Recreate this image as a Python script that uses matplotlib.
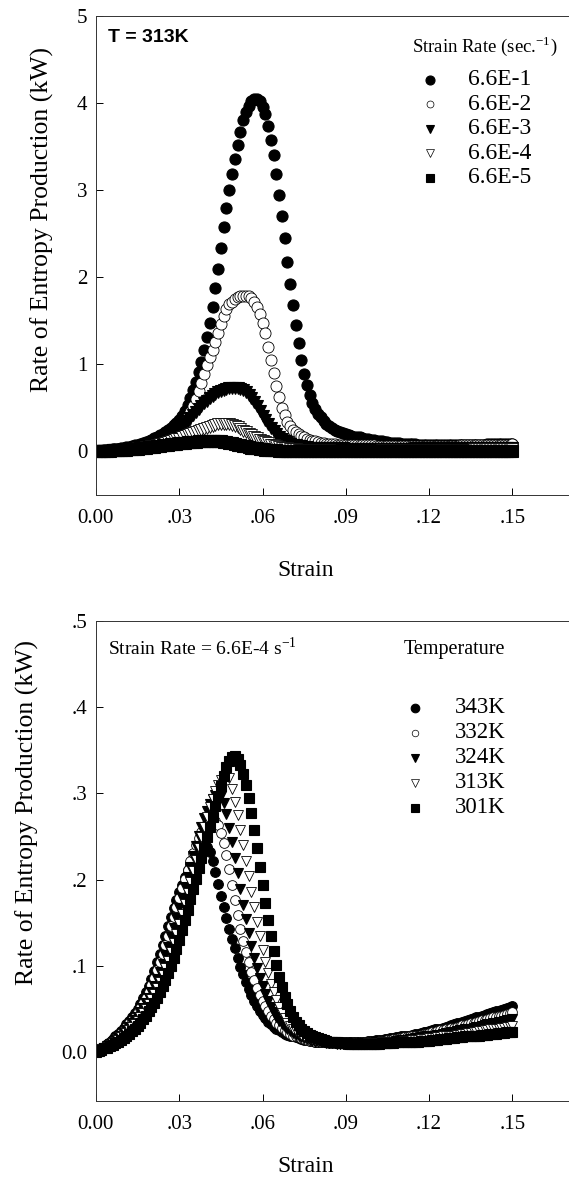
import numpy as np
import matplotlib
matplotlib.use("Agg")
import matplotlib.pyplot as plt

plt.rcParams['font.family'] = ['Liberation Serif', 'DejaVu Serif']
plt.rcParams['mathtext.fontset'] = 'custom'
plt.rcParams['mathtext.rm'] = 'Liberation Serif'

STEP = 0.001  # strain step between data points

# ---- top panel, T = 313K, rate of entropy production (kW) ----
rate_labels = ["6.6E-1", "6.6E-2", "6.6E-3", "6.6E-4", "6.6E-5"]

r_66e1 = [
    0.000, 0.005, 0.010, 0.013, 0.017, 0.020, 0.024, 0.027, 0.031, 0.035,
    0.040, 0.047, 0.054, 0.061, 0.069, 0.078, 0.088, 0.098, 0.110, 0.122,
    0.135, 0.150, 0.166, 0.183, 0.200, 0.220, 0.245, 0.270, 0.300, 0.330,
    0.365, 0.405, 0.460, 0.530, 0.610, 0.700, 0.800, 0.910, 1.030, 1.160,
    1.310, 1.480, 1.660, 1.880, 2.100, 2.340, 2.580, 2.800, 3.000, 3.190,
    3.360, 3.520, 3.670, 3.800, 3.900, 3.970, 4.020, 4.050, 4.050, 4.020,
    3.960, 3.870, 3.740, 3.580, 3.400, 3.180, 2.940, 2.700, 2.450, 2.180,
    1.920, 1.680, 1.450, 1.240, 1.050, 0.890, 0.760, 0.650, 0.560, 0.490,
    0.430, 0.390, 0.350, 0.320, 0.290, 0.270, 0.250, 0.240, 0.220, 0.210,
    0.200, 0.190, 0.180, 0.170, 0.165, 0.160, 0.150, 0.145, 0.140, 0.135,
    0.130, 0.125, 0.120, 0.115, 0.110, 0.105, 0.100, 0.097, 0.094, 0.091,
    0.088, 0.086, 0.084, 0.082, 0.081, 0.080, 0.079, 0.078, 0.078, 0.077,
    0.077, 0.076, 0.076, 0.076, 0.075, 0.075, 0.075, 0.075, 0.075, 0.075,
    0.075, 0.075, 0.075, 0.076, 0.076, 0.076, 0.077, 0.077, 0.078, 0.078,
    0.079, 0.080, 0.080, 0.081, 0.082, 0.083, 0.084, 0.085, 0.087, 0.088, 0.090]

r_66e2 = [
    0.000, 0.003, 0.006, 0.009, 0.012, 0.015, 0.018, 0.021, 0.024, 0.027,
    0.030, 0.034, 0.038, 0.042, 0.047, 0.052, 0.058, 0.064, 0.070, 0.077,
    0.085, 0.095, 0.105, 0.118, 0.132, 0.145, 0.160, 0.175, 0.190, 0.215,
    0.245, 0.280, 0.330, 0.390, 0.450, 0.520, 0.600, 0.690, 0.790, 0.890,
    0.990, 1.080, 1.170, 1.260, 1.360, 1.460, 1.550, 1.630, 1.690, 1.720,
    1.750, 1.770, 1.780, 1.785, 1.785, 1.780, 1.760, 1.720, 1.660, 1.580,
    1.480, 1.360, 1.200, 1.050, 0.900, 0.750, 0.620, 0.500, 0.420, 0.340,
    0.290, 0.250, 0.220, 0.195, 0.175, 0.160, 0.145, 0.133, 0.123, 0.115,
    0.108, 0.100, 0.094, 0.089, 0.085, 0.082, 0.080, 0.078, 0.076, 0.075,
    0.074, 0.073, 0.072, 0.071, 0.070, 0.070, 0.069, 0.069, 0.068, 0.068,
    0.068, 0.067, 0.067, 0.067, 0.066, 0.066, 0.066, 0.066, 0.066, 0.066,
    0.066, 0.066, 0.066, 0.066, 0.066, 0.066, 0.066, 0.066, 0.066, 0.066,
    0.066, 0.066, 0.066, 0.066, 0.066, 0.066, 0.067, 0.067, 0.067, 0.067,
    0.067, 0.068, 0.068, 0.068, 0.069, 0.069, 0.070, 0.070, 0.071, 0.071,
    0.072, 0.072, 0.073, 0.074, 0.074, 0.075, 0.076, 0.077, 0.078, 0.079, 0.080]

r_66e3 = [
    0.000, 0.002, 0.004, 0.006, 0.008, 0.010, 0.012, 0.014, 0.016, 0.018,
    0.021, 0.024, 0.028, 0.032, 0.037, 0.042, 0.048, 0.055, 0.063, 0.072,
    0.082, 0.093, 0.105, 0.118, 0.133, 0.150, 0.168, 0.188, 0.210, 0.234,
    0.260, 0.288, 0.318, 0.350, 0.384, 0.418, 0.452, 0.486, 0.520, 0.552,
    0.582, 0.610, 0.636, 0.660, 0.680, 0.697, 0.711, 0.722, 0.729, 0.733,
    0.732, 0.726, 0.715, 0.700, 0.680, 0.650, 0.615, 0.570, 0.520, 0.465,
    0.410, 0.360, 0.315, 0.272, 0.233, 0.198, 0.168, 0.142, 0.121, 0.104,
    0.090, 0.079, 0.070, 0.063, 0.057, 0.052, 0.048, 0.045, 0.043, 0.041,
    0.039, 0.038, 0.037, 0.036, 0.036, 0.035, 0.035, 0.034, 0.034, 0.034,
    0.033, 0.033, 0.033, 0.033, 0.033, 0.033, 0.033, 0.033, 0.033, 0.033,
    0.033, 0.033, 0.033, 0.033, 0.033, 0.033, 0.033, 0.033, 0.033, 0.033,
    0.033, 0.033, 0.033, 0.033, 0.033, 0.034, 0.034, 0.034, 0.034, 0.034,
    0.034, 0.034, 0.035, 0.035, 0.035, 0.035, 0.035, 0.036, 0.036, 0.036,
    0.036, 0.037, 0.037, 0.037, 0.037, 0.038, 0.038, 0.038, 0.039, 0.039,
    0.039, 0.040, 0.040, 0.041, 0.041, 0.042, 0.042, 0.043, 0.043, 0.044, 0.045]

r_66e5 = [
    0.000, 0.002, 0.004, 0.006, 0.008, 0.010, 0.012, 0.014, 0.016, 0.018,
    0.020, 0.022, 0.024, 0.027, 0.030, 0.033, 0.036, 0.040, 0.044, 0.048,
    0.052, 0.056, 0.060, 0.064, 0.068, 0.072, 0.076, 0.080, 0.084, 0.088,
    0.092, 0.096, 0.100, 0.104, 0.107, 0.110, 0.113, 0.115, 0.117, 0.119,
    0.120, 0.120, 0.120, 0.119, 0.117, 0.114, 0.110, 0.105, 0.099, 0.093,
    0.086, 0.079, 0.072, 0.065, 0.058, 0.051, 0.045, 0.039, 0.034, 0.029,
    0.025, 0.021, 0.018, 0.015, 0.013, 0.011, 0.009, 0.008, 0.007, 0.006,
    0.005, 0.005, 0.004, 0.004, 0.004, 0.004, 0.004, 0.003, 0.003, 0.003,
    0.003, 0.003, 0.003, 0.003, 0.003, 0.003, 0.003, 0.003, 0.003, 0.003,
    0.003, 0.003, 0.003, 0.003, 0.003, 0.003, 0.003, 0.003, 0.003, 0.003,
    0.003, 0.003, 0.003, 0.003, 0.003, 0.003, 0.003, 0.003, 0.003, 0.003,
    0.003, 0.003, 0.003, 0.003, 0.003, 0.004, 0.004, 0.004, 0.004, 0.004,
    0.004, 0.004, 0.004, 0.004, 0.004, 0.005, 0.005, 0.005, 0.005, 0.005,
    0.005, 0.005, 0.005, 0.005, 0.006, 0.006, 0.006, 0.006, 0.006, 0.006,
    0.007, 0.007, 0.007, 0.007, 0.007, 0.007, 0.008, 0.008, 0.008, 0.008, 0.008]

# ---- bottom panel, strain rate 6.6E-4 1/s ----
temp_labels = ["343K", "332K", "324K", "313K", "301K"]

t_343 = [
    0.000, 0.002, 0.004, 0.006, 0.009, 0.012, 0.015, 0.018, 0.021, 0.024,
    0.028, 0.032, 0.036, 0.040, 0.045, 0.050, 0.056, 0.062, 0.069, 0.077,
    0.085, 0.094, 0.104, 0.114, 0.124, 0.135, 0.146, 0.157, 0.167, 0.176,
    0.185, 0.194, 0.203, 0.211, 0.218, 0.225, 0.231, 0.236, 0.239, 0.240,
    0.238, 0.232, 0.222, 0.209, 0.195, 0.181, 0.168, 0.155, 0.143, 0.131,
    0.120, 0.109, 0.099, 0.090, 0.081, 0.073, 0.066, 0.059, 0.053, 0.048,
    0.043, 0.039, 0.035, 0.032, 0.029, 0.027, 0.025, 0.023, 0.021, 0.020,
    0.019, 0.018, 0.017, 0.016, 0.015, 0.014, 0.014, 0.013, 0.013, 0.012,
    0.012, 0.012, 0.011, 0.011, 0.011, 0.011, 0.011, 0.011, 0.011, 0.011,
    0.011, 0.011, 0.011, 0.011, 0.012, 0.012, 0.012, 0.012, 0.013, 0.013,
    0.013, 0.014, 0.014, 0.014, 0.015, 0.015, 0.016, 0.016, 0.017, 0.017,
    0.018, 0.018, 0.019, 0.019, 0.020, 0.021, 0.021, 0.022, 0.023, 0.023,
    0.024, 0.025, 0.026, 0.026, 0.027, 0.028, 0.029, 0.030, 0.031, 0.032,
    0.033, 0.034, 0.035, 0.036, 0.037, 0.038, 0.039, 0.040, 0.041, 0.042,
    0.043, 0.044, 0.045, 0.046, 0.047, 0.048, 0.049, 0.050, 0.051, 0.052, 0.053]

t_332 = [
    0.000, 0.002, 0.004, 0.006, 0.008, 0.011, 0.013, 0.016, 0.019, 0.022,
    0.025, 0.029, 0.033, 0.037, 0.041, 0.046, 0.051, 0.057, 0.063, 0.070,
    0.078, 0.086, 0.095, 0.104, 0.114, 0.124, 0.135, 0.146, 0.157, 0.168,
    0.179, 0.190, 0.201, 0.211, 0.221, 0.231, 0.240, 0.248, 0.255, 0.261,
    0.266, 0.269, 0.270, 0.268, 0.263, 0.254, 0.242, 0.228, 0.212, 0.194,
    0.176, 0.159, 0.143, 0.129, 0.116, 0.104, 0.093, 0.083, 0.074, 0.066,
    0.059, 0.053, 0.047, 0.042, 0.038, 0.034, 0.031, 0.028, 0.025, 0.023,
    0.021, 0.019, 0.018, 0.017, 0.016, 0.015, 0.014, 0.013, 0.013, 0.012,
    0.012, 0.011, 0.011, 0.011, 0.010, 0.010, 0.010, 0.010, 0.010, 0.010,
    0.010, 0.010, 0.010, 0.010, 0.010, 0.011, 0.011, 0.011, 0.011, 0.012,
    0.012, 0.012, 0.013, 0.013, 0.013, 0.014, 0.014, 0.015, 0.015, 0.016,
    0.016, 0.017, 0.017, 0.018, 0.018, 0.019, 0.019, 0.020, 0.021, 0.021,
    0.022, 0.023, 0.023, 0.024, 0.025, 0.025, 0.026, 0.027, 0.028, 0.028,
    0.029, 0.030, 0.031, 0.031, 0.032, 0.033, 0.034, 0.035, 0.036, 0.037,
    0.037, 0.038, 0.039, 0.040, 0.041, 0.042, 0.042, 0.043, 0.044, 0.045, 0.046]

t_324 = [
    0.000, 0.002, 0.003, 0.005, 0.007, 0.009, 0.011, 0.014, 0.016, 0.019,
    0.022, 0.025, 0.029, 0.033, 0.037, 0.041, 0.046, 0.051, 0.057, 0.063,
    0.070, 0.077, 0.085, 0.093, 0.102, 0.112, 0.122, 0.133, 0.144, 0.155,
    0.167, 0.179, 0.191, 0.203, 0.215, 0.227, 0.239, 0.250, 0.261, 0.271,
    0.280, 0.288, 0.294, 0.298, 0.300, 0.297, 0.289, 0.276, 0.260, 0.243,
    0.225, 0.207, 0.189, 0.171, 0.154, 0.138, 0.123, 0.109, 0.097, 0.086,
    0.076, 0.067, 0.059, 0.052, 0.046, 0.041, 0.036, 0.032, 0.029, 0.026,
    0.024, 0.022, 0.020, 0.018, 0.017, 0.016, 0.015, 0.014, 0.013, 0.012,
    0.012, 0.011, 0.011, 0.010, 0.010, 0.010, 0.010, 0.009, 0.009, 0.009,
    0.009, 0.009, 0.009, 0.009, 0.009, 0.009, 0.010, 0.010, 0.010, 0.010,
    0.010, 0.011, 0.011, 0.011, 0.011, 0.012, 0.012, 0.012, 0.013, 0.013,
    0.014, 0.014, 0.014, 0.015, 0.015, 0.016, 0.016, 0.017, 0.017, 0.018,
    0.018, 0.019, 0.019, 0.020, 0.020, 0.021, 0.022, 0.022, 0.023, 0.023,
    0.024, 0.025, 0.025, 0.026, 0.027, 0.027, 0.028, 0.029, 0.029, 0.030,
    0.031, 0.032, 0.032, 0.033, 0.034, 0.035, 0.035, 0.036, 0.037, 0.037, 0.038]

# 313K at 6.6E-4 is the same run in both panels
t_313 = [
    0.000, 0.001, 0.003, 0.004, 0.006, 0.008, 0.010, 0.012, 0.014, 0.017,
    0.019, 0.022, 0.025, 0.029, 0.032, 0.036, 0.040, 0.045, 0.050, 0.055,
    0.061, 0.067, 0.074, 0.081, 0.089, 0.097, 0.106, 0.116, 0.126, 0.137,
    0.148, 0.160, 0.172, 0.184, 0.197, 0.210, 0.223, 0.236, 0.249, 0.261,
    0.273, 0.284, 0.294, 0.303, 0.310, 0.315, 0.319, 0.320, 0.318, 0.305,
    0.290, 0.275, 0.258, 0.240, 0.222, 0.204, 0.186, 0.168, 0.151, 0.134,
    0.118, 0.104, 0.091, 0.079, 0.069, 0.060, 0.052, 0.045, 0.039, 0.034,
    0.030, 0.027, 0.024, 0.022, 0.020, 0.018, 0.017, 0.016, 0.015, 0.014,
    0.013, 0.012, 0.012, 0.011, 0.011, 0.010, 0.010, 0.010, 0.009, 0.009,
    0.009, 0.009, 0.009, 0.009, 0.009, 0.009, 0.009, 0.009, 0.010, 0.010,
    0.010, 0.010, 0.010, 0.011, 0.011, 0.011, 0.011, 0.012, 0.012, 0.012,
    0.012, 0.013, 0.013, 0.013, 0.014, 0.014, 0.014, 0.015, 0.015, 0.015,
    0.016, 0.016, 0.016, 0.017, 0.017, 0.018, 0.018, 0.018, 0.019, 0.019,
    0.020, 0.020, 0.021, 0.021, 0.022, 0.022, 0.023, 0.023, 0.024, 0.024,
    0.025, 0.025, 0.026, 0.026, 0.027, 0.027, 0.028, 0.028, 0.029, 0.029, 0.030]

t_301 = [
    0.000, 0.001, 0.002, 0.004, 0.005, 0.007, 0.008, 0.010, 0.012, 0.014,
    0.016, 0.019, 0.021, 0.024, 0.027, 0.030, 0.034, 0.038, 0.042, 0.047,
    0.052, 0.057, 0.063, 0.069, 0.076, 0.083, 0.091, 0.100, 0.109, 0.119,
    0.130, 0.141, 0.153, 0.165, 0.177, 0.189, 0.201, 0.213, 0.225, 0.237,
    0.249, 0.261, 0.273, 0.285, 0.297, 0.309, 0.320, 0.330, 0.337, 0.342,
    0.343, 0.340, 0.333, 0.322, 0.310, 0.295, 0.277, 0.257, 0.236, 0.215,
    0.194, 0.173, 0.153, 0.134, 0.117, 0.101, 0.087, 0.075, 0.064, 0.055,
    0.047, 0.041, 0.035, 0.031, 0.027, 0.024, 0.022, 0.020, 0.018, 0.017,
    0.016, 0.015, 0.014, 0.013, 0.012, 0.012, 0.011, 0.011, 0.010, 0.010,
    0.010, 0.009, 0.009, 0.009, 0.009, 0.009, 0.009, 0.009, 0.009, 0.009,
    0.009, 0.009, 0.009, 0.010, 0.010, 0.010, 0.010, 0.010, 0.011, 0.011,
    0.011, 0.011, 0.011, 0.012, 0.012, 0.012, 0.012, 0.013, 0.013, 0.013,
    0.013, 0.014, 0.014, 0.014, 0.015, 0.015, 0.015, 0.016, 0.016, 0.016,
    0.017, 0.017, 0.017, 0.018, 0.018, 0.018, 0.019, 0.019, 0.019, 0.020,
    0.020, 0.020, 0.021, 0.021, 0.021, 0.022, 0.022, 0.022, 0.023, 0.023, 0.023]

x_ticks = [0.0, 0.03, 0.06, 0.09, 0.12, 0.15]
x_tick_labels = ["0.00", ".03", ".06", ".09", ".12", ".15"]
top_y_ticks = [0, 1, 2, 3, 4, 5]
top_y_labels = ["0", "1", "2", "3", "4", "5"]
bot_y_ticks = [0.0, 0.1, 0.2, 0.3, 0.4, 0.5]
bot_y_labels = ["0.0", ".1", ".2", ".3", ".4", ".5"]

# marker styles in legend order: filled circle, open circle, filled tri, open tri, filled square
styles = [
    dict(marker='o', mfc='black', mec='black'),
    dict(marker='o', mfc='white', mec='black'),
    dict(marker='v', mfc='black', mec='black'),
    dict(marker='v', mfc='white', mec='black'),
    dict(marker='s', mfc='black', mec='black'),
]
# legend key sizes (the reference draws the open keys smaller)
key_sizes = [6.5, 5.0, 6.2, 5.6, 5.4]


def strain_of(vals):
    return np.arange(len(vals)) * STEP


def style_axes(ax, yticks, ylabels, ylim):
    ax.set_xlim(0, 0.17)
    ax.set_ylim(*ylim)
    ax.set_xticks(x_ticks, x_tick_labels)
    ax.set_yticks(yticks, ylabels)
    ax.tick_params(direction='in', length=5, width=0.7, labelsize=15)
    ax.tick_params(axis='x', pad=10)
    ax.tick_params(axis='y', pad=6)
    ax.spines['right'].set_visible(False)
    for s in ['left', 'top', 'bottom']:
        ax.spines[s].set_linewidth(0.7)
        ax.spines[s].set_color('#333333')
    ax.set_xlabel("Strain", fontsize=17)
    ax.set_ylabel("Rate of Entropy Production (kW)", fontsize=18.5)


def key_legend(ax, labels, x_mark, x_text, y0, dy, fs, scale):
    # hand-placed legend rows: marker key then label
    for i, (st, lab) in enumerate(zip(styles, labels)):
        y = y0 - i * dy
        mew = 0.5 if st['mfc'] == 'white' else 0.8
        ax.plot([x_mark], [y], transform=ax.transAxes, linestyle='none',
                ms=key_sizes[i] * scale, mew=mew, clip_on=False, **st)
        ax.text(x_text, y, lab, transform=ax.transAxes, fontsize=fs,
                va='center', ha='left')


fig = plt.figure(figsize=(5.71, 11.83), dpi=100)

# top panel
ax1 = fig.add_axes([0.168, 0.5816, 0.8266, 0.4049])
top_series = [r_66e1, r_66e2, r_66e3, t_313, r_66e5]
for vals, st in zip(top_series, styles):
    mew = 0.6 if st['mfc'] == 'white' else 0.8
    ax1.plot(strain_of(vals), vals, linestyle='none', ms=8.0, mew=mew, **st)
style_axes(ax1, top_y_ticks, top_y_labels, (-0.5, 5.0))
ax1.xaxis.set_label_coords(0.445, -0.135)
ax1.yaxis.set_label_coords(-0.088, 0.575)
ax1.text(0.025, 0.955, "T = 313K", transform=ax1.transAxes, fontsize=14,
         fontweight='bold', family='Liberation Sans', va='center', ha='left')
ax1.text(0.823, 0.937, r"Strain Rate (sec.$^{\mathregular{-1}}$)", transform=ax1.transAxes,
         fontsize=13.5, va='center', ha='center')
key_legend(ax1, rate_labels, 0.708, 0.788, (495 - 80) / 479, 24.5 / 479, 17, 1.0)

# bottom panel
ax2 = fig.add_axes([0.168, 0.0693, 0.8266, 0.4058])
bot_series = [t_343, t_332, t_324, t_313, t_301]
for vals, st in zip(bot_series, styles):
    mew = 0.6 if st['mfc'] == 'white' else 0.8
    ax2.plot(strain_of(vals), vals, linestyle='none', ms=7.0, mew=mew, **st)
style_axes(ax2, bot_y_ticks, bot_y_labels, (-0.057, 0.5))
ax2.xaxis.set_label_coords(0.445, -0.115)
ax2.yaxis.set_label_coords(-0.12, 0.6)
ax2.text(0.025, 0.944, r"Strain Rate = 6.6E-4 s$^{\mathregular{-1}}$", transform=ax2.transAxes,
         fontsize=14, va='center', ha='left')
ax2.text(0.76, 0.94, "Temperature", transform=ax2.transAxes,
         fontsize=14.5, va='center', ha='center')
key_legend(ax2, temp_labels, 0.676, 0.761, (1101 - 708) / 480, 25 / 480, 16.5, 0.95)

fig.savefig("out.png", dpi=100)
